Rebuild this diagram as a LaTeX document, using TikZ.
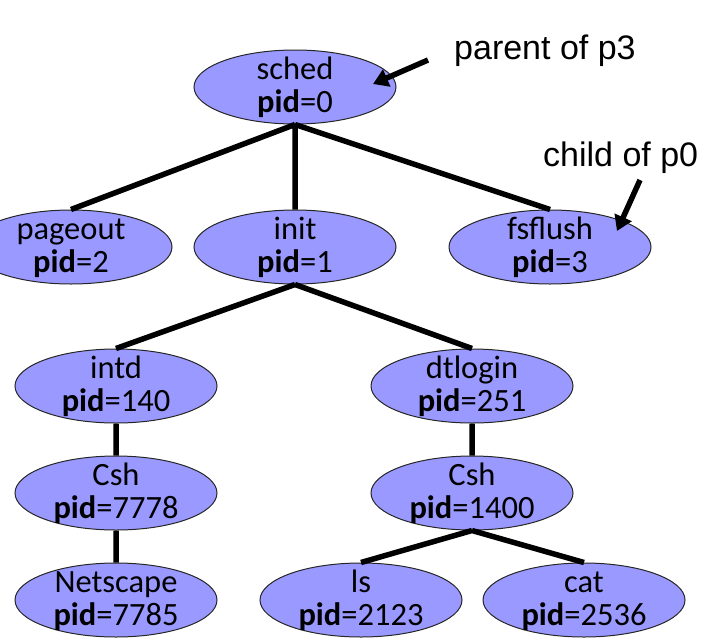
\documentclass[tikz,border=0pt]{standalone}
\usepackage{fontspec}
\setmainfont{Carlito}
\newfontfamily\notefont{Liberation Sans}
\usetikzlibrary{shapes.geometric,arrows.meta}
\definecolor{procblue}{RGB}{153,153,255}
% two lines of a process label, kept out of the node size
\newcommand{\plabel}[2]{%
  \makebox[0pt]{\raisebox{8pt}[0pt][0pt]{#1}}%
  \makebox[0pt]{\raisebox{-25pt}[0pt][0pt]{\textbf{pid}=#2}}}
\tikzset{
  proc/.style={ellipse, draw=black!85, line width=1pt, fill=procblue,
    minimum width=202pt, minimum height=74pt, inner sep=0pt,
    font=\fontsize{32.5}{32}\selectfont},
  tree/.style={line width=5.5pt},
  note/.style={font=\notefont\fontsize{34}{34}\selectfont, inner sep=0pt},
  pointer/.style={line width=5.5pt, -{Triangle[length=15pt,width=18pt]}}
}
\begin{document}
\begin{tikzpicture}[x=1pt, y=-1pt]
    \useasboundingbox (0,0) rectangle (701,643);
    \begin{scope}
    \node[proc] (sched)    at (295,87)  {\plabel{sched}{0}};
    \node[proc] (pageout)  at (71,247)  {\plabel{pageout}{2}};
    \node[proc] (init)     at (295,247) {\plabel{init}{1}};
    \node[proc] (fsflush)  at (550,247) {\plabel{fsflush}{3}};
    \node[proc] (intd)     at (116,386) {\plabel{intd}{140}};
    \node[proc] (dtlogin)  at (472,386) {\plabel{dtlogin}{251}};
    \node[proc] (cshA)     at (116,493) {\plabel{Csh}{7778}};
    \node[proc] (cshB)     at (472,493) {\plabel{Csh}{1400}};
    \node[proc] (netscape) at (116,600) {\plabel{Netscape}{7785}};
    \node[proc] (ls)       at (361,600) {\plabel{ls}{2123}};
    \node[proc] (cat)      at (584,600) {\plabel{cat}{2536}};
    \end{scope}
    \draw[tree]
        (sched.south) -- (pageout.north)
        (sched.south) -- (init.north)
        (sched.south) -- (fsflush.north)
        (init.south) -- (intd.north)
        (init.south) -- (dtlogin.north)
        (intd.south) -- (cshA.north)
        (cshA.south) -- (netscape.north)
        (dtlogin.south) -- (cshB.north)
        (cshB.south) -- (ls.north)
        (cshB.south) -- (cat.north);
    % notes
    \node[note, anchor=base west] (parentnote) at (454,59)  {parent of p3};
    \node[note, anchor=base west] (childnote)  at (543,166) {child of p0};
    \coordinate (parenttail) at (428,60);
    \coordinate (parenttip)  at (373,84);
    \coordinate (childtail)  at (640,180);
    \coordinate (childtip)   at (617,231);
    \draw[pointer] (parenttail) -- (parenttip);
    \draw[pointer] (childtail) -- (childtip);
\end{tikzpicture}
\end{document}
